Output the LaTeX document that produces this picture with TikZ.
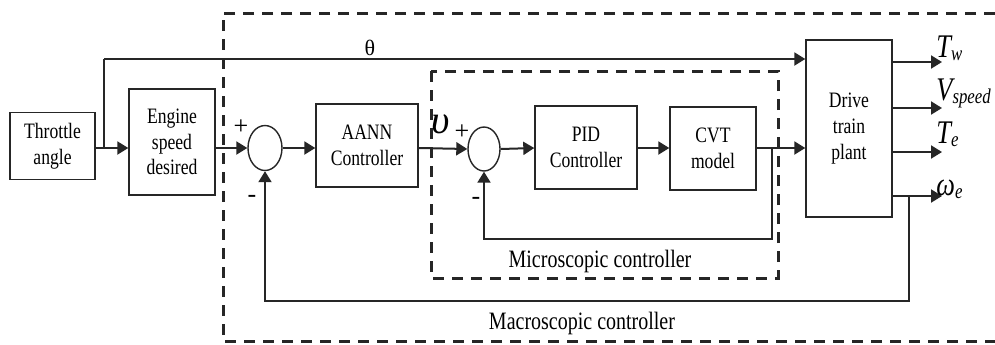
\documentclass[tikz,border=0pt]{standalone}
\usepackage{fontspec}
\setmainfont{Liberation Serif}[FakeStretch=0.8]
\newfontfamily\labfont{Liberation Serif}
\usetikzlibrary{arrows.meta,shapes.geometric}
\newcommand{\mysub}[1]{\raisebox{-1.5pt}{\fontsize{10.5}{12}\selectfont\itshape #1}}
\tikzset{
  blk/.style={draw=black!85, line width=0.7pt, align=center, inner sep=1pt,
              font=\fontsize{11}{12.8}\selectfont},
  sumnode/.style={draw=black!85, line width=0.7pt, ellipse, inner sep=0pt,
                  minimum width=17pt, minimum height=22.5pt},
  wire/.style={draw=black!85, line width=1pt},
  arr/.style={wire, -{Triangle[length=5.5pt,width=6.5pt]}},
  dbox/.style={draw=black!85, line width=1.5pt, dash pattern=on 5.5pt off 4pt},
  lbl/.style={inner sep=0pt, font=\fontsize{12.5}{14}\selectfont},
  outlbl/.style={anchor=base west, inner sep=0pt, font=\fontsize{16.5}{18}\selectfont\itshape},
  sgn/.style={inner sep=0pt, font=\fontsize{13}{14}\labfont}
}
\begin{document}
\begin{tikzpicture}[x=0.5pt,y=-0.5pt]
\useasboundingbox (0,0) rectangle (995,344);
\fill[white] (0,0) rectangle (995,344);

% dashed boxes
\draw[dbox] (995,13) -- (223,13) -- (223,341) -- (995,341);
\draw[dbox] (431,71) rectangle (778,278);

% blocks
\node[blk, minimum width=42.5pt, minimum height=33.5pt] (thr) at (52.5,146) {Throttle\\angle};
\node[blk, minimum width=43pt, minimum height=53pt] (eng) at (172,142) {Engine\\speed\\desired};
\node[sumnode] (s1) at (265,148) {};
\node[blk, minimum width=51pt, minimum height=41.5pt] (aann) at (367,145.5) {AANN\\Controller};
\node[sumnode, minimum width=16pt, minimum height=22pt] (s2) at (484,149) {};
\node[blk, minimum width=51pt, minimum height=41.5pt] (pid) at (586,147.5) {PID\\Controller};
\node[blk, minimum width=43pt, minimum height=41.5pt] (cvt) at (713,148.5) {CVT\\model};
\node[blk, minimum width=43pt, minimum height=88.5pt] (drv) at (849,128.5) {Drive\\train\\plant};

% coordinates
\coordinate (m) at (0,148);
\coordinate (tb) at (104,148);
\coordinate (tt) at (104,59);
\coordinate (o1) at (942,62);
\coordinate (o2) at (942,108);
\coordinate (o3) at (942,152);
\coordinate (o4) at (942,196);
\coordinate (f1) at (772,148);
\coordinate (f1b) at (772,239);
\coordinate (f2) at (909,196);
\coordinate (f2b) at (909,301);

% main path
\draw[arr] (thr.east |- m) -- (eng.west |- m);
\draw[arr] (eng.east |- m) -- (s1.west);
\draw[arr] (s1.east) -- (aann.west |- m);
\draw[arr] (aann.east |- m) -- (s2.west);
\draw[arr] (s2.east) -- (pid.west |- m);
\draw[arr] (pid.east |- m) -- (cvt.west |- m);
\draw[arr] (cvt.east |- m) -- (drv.west |- m);

% throttle branch
\draw[wire] (tb) -- (tt);
\draw[arr] (tt) -- (drv.west |- tt);

% outputs
\draw[arr] (drv.east |- o1) -- (o1);
\draw[arr] (drv.east |- o2) -- (o2);
\draw[arr] (drv.east |- o3) -- (o3);
\draw[arr] (drv.east |- o4) -- (o4);

% feedbacks
\draw[arr] (f1) -- (f1b) -| (s2.south);
\draw[arr] (f2) -- (f2b) -| (s1.south);

% labels
\node[inner sep=0pt, font=\fontsize{11}{12}\labfont] (th) at (370,48) {θ};
\node[inner sep=0pt, font=\fontsize{20}{22}\labfont\itshape] (ups) at (441,124) {υ};
\node[sgn] (p2) at (462,132) {+};
\node[sgn] (p1) at (241,127) {+};
\node[sgn] (n1) at (252,199) {-};
\node[sgn] (n2) at (476,201) {-};

\node[outlbl] (lw) at (936,57) {T\mysub{w}};
\node[outlbl] (lv) at (936,100) {V\mysub{speed}};
\node[outlbl] (le) at (936,143) {T\mysub{e}};
\node[outlbl] (lo) at (936,195) {ω\mysub{e}};

\node[lbl, anchor=base] (mic) at (600,267) {Microscopic controller};
\node[lbl, anchor=base] (mac) at (582,329) {Macroscopic controller};
\end{tikzpicture}
\end{document}
